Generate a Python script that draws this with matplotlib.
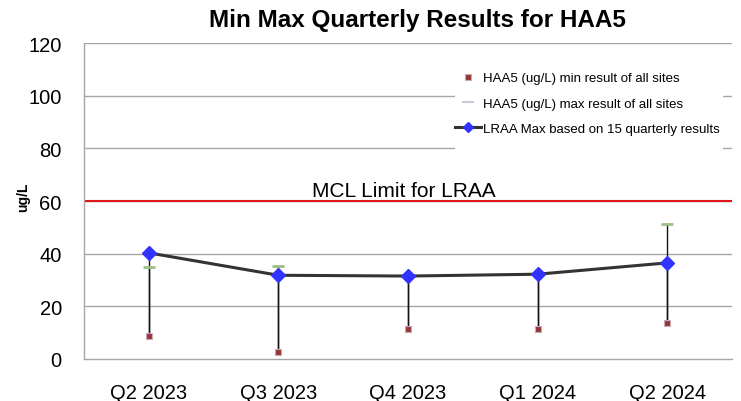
import matplotlib
matplotlib.use("Agg")
import matplotlib.pyplot as plt
from matplotlib.lines import Line2D
from matplotlib.patches import Rectangle

quarters = ['Q2 2023', 'Q3 2023', 'Q4 2023', 'Q1 2024', 'Q2 2024']
min_vals = [8.9, 2.8, 11.4, 11.4, 13.8]
max_vals = [34.8, 35.4, 31.5, 32.2, 51.1]
lraa_vals = [40.3, 31.8, 31.5, 32.2, 36.5]
mcl_limit = 60
yticks = [0, 20, 40, 60, 80, 100, 120]

plt.rcParams['font.family'] = ['Liberation Sans', 'DejaVu Sans']

fig = plt.figure(figsize=(7.41, 4.02), dpi=100)
ax = fig.add_axes([84/741, 1-360/402, (732-84)/741, (360-44)/402])

x = list(range(len(quarters)))

# grid
for yt in yticks[1:]:
    ax.axhline(yt, color='#a6a6a6', lw=1.0, zorder=0)

# MCL line
ax.axhline(mcl_limit, color='#e0161b', lw=1.5, zorder=1)
ax.text(1.97, mcl_limit + 1.9, 'MCL Limit for LRAA', ha='center', va='baseline',
        fontsize=15, color='black', zorder=5)

# high-low lines
ax.vlines(x, min_vals, max_vals, colors='#111111', lw=1.0, zorder=2)
ax.vlines(x, min_vals, lraa_vals, colors='#111111', lw=1.0, zorder=2)

# max markers
ax.plot(x, max_vals, ls='none', marker='_', markersize=8, markeredgewidth=2,
        color='#9cbf84', zorder=3)
# min markers
ax.plot(x, min_vals, ls='none', marker='s', markersize=5, markerfacecolor='#953735',
        markeredgecolor='#c9a9b9', markeredgewidth=0.8, zorder=3)
# LRAA line
ax.plot(x, lraa_vals, color='#333333', lw=2.2, marker='D', markersize=7,
        markerfacecolor='#3333ff', markeredgecolor='#3333ff', zorder=4)

ax.set_xlim(-0.5, len(quarters) - 0.5)
ax.set_ylim(0, 120)
ax.set_yticks(yticks)
ax.set_xticks(x)
ax.set_xticklabels(quarters)
ax.tick_params(axis='both', length=0, labelsize=14.5)
ax.tick_params(axis='x', pad=17)
ax.tick_params(axis='y', pad=16)

for s in ['top', 'right']:
    ax.spines[s].set_visible(False)
for s in ['left', 'bottom']:
    ax.spines[s].set_color('#a6a6a6')
    ax.spines[s].set_linewidth(1.0)

ax.set_ylabel('ug/L', fontsize=10, fontweight='bold', labelpad=2)
ax.yaxis.set_label_coords(-0.083, 0.515)

# white legend background
bg = Rectangle((455/741, 1-153/402), (723-455)/741, (153-55)/402,
               transform=fig.transFigure, facecolor='white', edgecolor='none',
               zorder=5)
ax.add_artist(bg)

handles = [
    Line2D([], [], ls='none', marker='s', markersize=5, markerfacecolor='#953735',
           markeredgecolor='#c9a9b9', markeredgewidth=0.8),
    Line2D([], [], ls='none', marker='_', markersize=8, markeredgewidth=1.5,
           color='#cfc8d8'),
    Line2D([], [], color='#333333', lw=2.2, marker='D', markersize=5,
           markerfacecolor='#3333ff', markeredgecolor='#3333ff'),
]
labels = ['HAA5 (ug/L) min result of all sites',
          'HAA5 (ug/L) max result of all sites',
          'LRAA Max based on 15 quarterly results']
leg = ax.legend(handles, labels, loc='upper left',
                bbox_to_anchor=(455/741, 1-73/402), bbox_transform=fig.transFigure,
                fontsize=9.5, frameon=False, handlelength=2.0,
                handletextpad=0.15, labelspacing=1.0, borderpad=0.0,
                borderaxespad=0)
leg.set_zorder(6)

fig.text(417/741, 1-27/402, 'Min Max Quarterly Results for HAA5', ha='center',
         va='baseline', fontsize=17.5, fontweight='bold')

fig.savefig('out.png', dpi=100)
